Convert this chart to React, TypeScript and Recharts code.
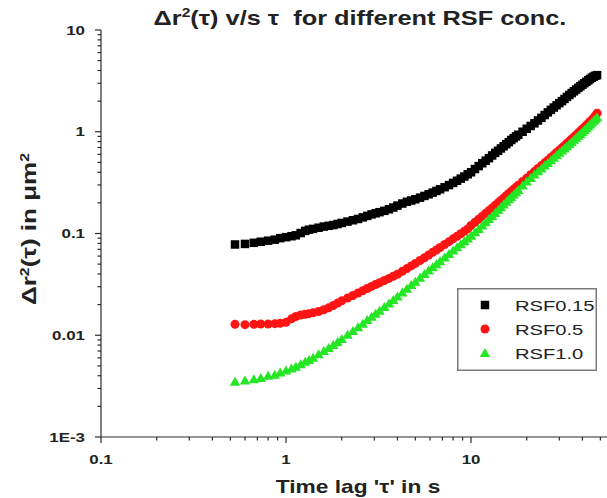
import { ScatterChart, Scatter, XAxis, YAxis, Legend } from 'recharts'

// time lag in s (one shared grid for all three runs)
const times = [
    0.53, 0.6, 0.67, 0.73, 0.8, 0.87, 0.93, 1.0, 1.07, 1.13, 1.2, 1.27, 1.33, 1.4, 1.5, 1.6, 1.7, 1.8, 1.9,
    2.0, 2.15, 2.3, 2.45, 2.6, 2.75, 2.9, 3.05, 3.2, 3.4, 3.6, 3.8, 4.0, 4.25, 4.5, 4.75,
    5.0, 5.3, 5.6, 5.9, 6.2, 6.5, 6.8, 7.2, 7.6, 8.0, 8.4, 8.8, 9.2, 9.6,
    10, 10.5, 11, 11.5, 12, 12.5, 13, 13.5, 14, 14.5, 15, 15.5, 16, 16.5, 17, 17.5, 18,
    19, 20, 21, 22, 23, 24, 25, 26, 27, 28, 29, 30, 31, 32, 33,
    34, 35, 36, 37, 38, 39, 40, 41, 42, 43, 44, 45, 46, 47, 48,
]

// MSD in um^2
const rsf015 = [
    0.078, 0.079, 0.081, 0.083, 0.085, 0.087, 0.09, 0.092, 0.094, 0.096, 0.101, 0.106, 0.109, 0.111, 0.114, 0.117, 0.119, 0.121, 0.124,
    0.127, 0.131, 0.135, 0.139, 0.144, 0.149, 0.154, 0.158, 0.162, 0.167, 0.173, 0.18, 0.188, 0.197, 0.205, 0.211,
    0.217, 0.225, 0.234, 0.243, 0.252, 0.262, 0.272, 0.285, 0.299, 0.314, 0.33, 0.346, 0.363, 0.382,
    0.4, 0.43, 0.46, 0.49, 0.52, 0.55, 0.585, 0.62, 0.65, 0.685, 0.72, 0.755, 0.79, 0.83, 0.865, 0.9, 0.935,
    1.0, 1.07, 1.14, 1.21, 1.29, 1.37, 1.46, 1.55, 1.64, 1.73, 1.82, 1.91, 2.0, 2.1, 2.2,
    2.3, 2.4, 2.5, 2.6, 2.7, 2.8, 2.9, 3.0, 3.1, 3.2, 3.3, 3.4, 3.48, 3.55, 3.6,
]
const rsf05 = [
    0.0128, 0.0127, 0.0128, 0.0129, 0.0129, 0.013, 0.0131, 0.0134, 0.0145, 0.0153, 0.0158, 0.0161, 0.0163, 0.0166, 0.0171, 0.0178, 0.0186, 0.0196, 0.0207,
    0.0218, 0.0232, 0.0246, 0.026, 0.0274, 0.0288, 0.0302, 0.0315, 0.0328, 0.0345, 0.0362, 0.038, 0.0398, 0.0425, 0.0452, 0.048,
    0.0508, 0.0543, 0.0578, 0.0615, 0.0653, 0.069, 0.0728, 0.078, 0.0832, 0.0886, 0.094, 0.0995, 0.105, 0.111,
    0.12, 0.129, 0.138, 0.148, 0.158, 0.168, 0.178, 0.189, 0.2, 0.211, 0.223, 0.235, 0.247, 0.259, 0.272, 0.285, 0.298,
    0.324, 0.35, 0.378, 0.406, 0.435, 0.465, 0.495, 0.525, 0.558, 0.59, 0.625, 0.66, 0.695, 0.73, 0.77,
    0.81, 0.85, 0.89, 0.93, 0.975, 1.02, 1.065, 1.11, 1.16, 1.21, 1.26, 1.31, 1.37, 1.44, 1.52,
]
const rsf10 = [
    0.0035, 0.0036, 0.0037, 0.0038, 0.004, 0.0041, 0.0043, 0.0045, 0.0047, 0.0049, 0.0052, 0.0055, 0.0057, 0.006, 0.0065, 0.007, 0.0075, 0.008, 0.0086,
    0.0092, 0.0101, 0.011, 0.012, 0.013, 0.0141, 0.0152, 0.0163, 0.0174, 0.0189, 0.0205, 0.0222, 0.024, 0.0263, 0.0287, 0.0311,
    0.0336, 0.0367, 0.0399, 0.0432, 0.0466, 0.05, 0.0535, 0.0582, 0.063, 0.068, 0.0732, 0.0785, 0.084, 0.0895,
    0.095, 0.103, 0.111, 0.12, 0.129, 0.139, 0.149, 0.159, 0.17, 0.181, 0.193, 0.205, 0.217, 0.229, 0.242, 0.255, 0.268,
    0.296, 0.325, 0.352, 0.38, 0.408, 0.436, 0.465, 0.494, 0.524, 0.555, 0.587, 0.62, 0.653, 0.686, 0.722,
    0.758, 0.795, 0.833, 0.872, 0.912, 0.953, 0.995, 1.04, 1.085, 1.13, 1.18, 1.23, 1.28, 1.33, 1.38,
]

const xTicks = [
    0.1, 0.2, 0.3, 0.4, 0.5, 0.6, 0.7, 0.8, 0.9,
    1, 2, 3, 4, 5, 6, 7, 8, 9,
    10, 20, 30, 40, 50,
]
const xMajorTicks = [0.1, 1, 10]
const xMajorLabels = ['0.1', '1', '10']

const yTicks = [
    0.001, 0.002, 0.003, 0.004, 0.005, 0.006, 0.007, 0.008, 0.009,
    0.01, 0.02, 0.03, 0.04, 0.05, 0.06, 0.07, 0.08, 0.09,
    0.1, 0.2, 0.3, 0.4, 0.5, 0.6, 0.7, 0.8, 0.9,
    1, 2, 3, 4, 5, 6, 7, 8, 9,
    10,
]
const yMajorTicks = [0.001, 0.01, 0.1, 1, 10]
const yMajorLabels = ['1E-3', '0.01', '0.1', '1', '10']

const seriesNames = ['RSF0.15', 'RSF0.5', 'RSF1.0']
const seriesColors = ['#000000', '#ff1414', '#24e624']

const FONT = '"Liberation Sans", Arial, sans-serif'
const STRETCH = 1.3
const AXIS = '#2a2a2a'

const toPoints = (vals: number[]) => times.map((t, i) => ({ t, v: vals[i] }))

function Marker({ kind, cx, cy, color }: { kind: number; cx: number; cy: number; color: string }) {
    if (kind === 0) return <rect x={cx - 4.25} y={cy - 4.25} width={8.5} height={8.5} fill={color} />
    if (kind === 1) return <circle cx={cx} cy={cy} r={4.5} fill={color} />
    return <polygon points={`${cx},${cy - 5} ${cx + 5.2},${cy + 4} ${cx - 5.2},${cy + 4}`} fill={color} />
}

function XTick(props: any) {
    const { x, y, payload } = props
    const idx = xMajorTicks.indexOf(payload.value)
    const major = idx >= 0
    return (
        <g>
            <line x1={x} x2={x} y1={y} y2={y + (major ? 6 : 3.5)} stroke={AXIS} strokeWidth={1.2} />
            {major && (
                <text
                    transform={`translate(${x},${y + 27}) scale(${STRETCH},1)`}
                    textAnchor="middle"
                    fontFamily={FONT}
                    fontWeight="bold"
                    fontSize={13}
                    fill="#222"
                >
                    {xMajorLabels[idx]}
                </text>
            )}
        </g>
    )
}

function YTick(props: any) {
    const { x, y, payload } = props
    const idx = yMajorTicks.indexOf(payload.value)
    const major = idx >= 0
    return (
        <g>
            <line x1={x} x2={x - (major ? 6 : 3.5)} y1={y} y2={y} stroke={AXIS} strokeWidth={1.2} />
            {major && (
                <text
                    transform={`translate(${x - 16},${y + 4.6}) scale(${STRETCH},1)`}
                    textAnchor="end"
                    fontFamily={FONT}
                    fontWeight="bold"
                    fontSize={13}
                    fill="#222"
                >
                    {yMajorLabels[idx]}
                </text>
            )}
        </g>
    )
}

function LegendBox() {
    return (
        <svg width={140} height={83} style={{ display: 'block' }}>
            <rect x={0.75} y={0.75} width={138.5} height={81.5} fill="#fff" stroke="#7a7a7a" strokeWidth={1.5} />
            {seriesNames.map((name, i) => {
                const cy = 17 + i * 24
                return (
                    <g key={name}>
                        <Marker kind={i} cx={28} cy={cy} color={seriesColors[i]} />
                        <text
                            transform={`translate(58,${cy + 5.5}) scale(${STRETCH},1)`}
                            fontFamily={FONT}
                            fontSize={15.5}
                            fill="#222"
                        >
                            {name}
                        </text>
                    </g>
                )
            })}
        </svg>
    )
}

export default function App() {
    const series = [rsf015, rsf05, rsf10]
    return (
        <div style={{ position: 'absolute', left: 0, top: 0, width: 607, height: 498, background: '#fff', overflow: 'hidden' }}>
            <ScatterChart width={607} height={498} margin={{ top: 30, right: 0, bottom: 0, left: 0 }}>
                <XAxis
                    dataKey="t"
                    type="number"
                    scale="log"
                    domain={[0.1, 54.3]}
                    allowDataOverflow
                    ticks={xTicks}
                    interval={0}
                    height={61}
                    tickLine={false}
                    tickSize={0}
                    tickMargin={0}
                    axisLine={{ stroke: AXIS, strokeWidth: 1.2 }}
                    tick={(p: any) => <XTick {...p} />}
                />
                <YAxis
                    dataKey="v"
                    type="number"
                    scale="log"
                    domain={[0.001, 10]}
                    allowDataOverflow
                    ticks={yTicks}
                    interval={0}
                    width={101}
                    tickLine={false}
                    tickSize={0}
                    tickMargin={0}
                    axisLine={{ stroke: AXIS, strokeWidth: 1.2 }}
                    tick={(p: any) => <YTick {...p} />}
                />
                <Legend
                    layout="horizontal"
                    verticalAlign="middle"
                    align="center"
                    wrapperStyle={{ position: 'absolute', left: 457, top: 288, width: 140, height: 83 }}
                    content={() => <LegendBox />}
                />
                {series.map((vals, i) => (
                    <Scatter
                        key={seriesNames[i]}
                        name={seriesNames[i]}
                        data={toPoints(vals)}
                        fill={seriesColors[i]}
                        isAnimationActive={false}
                        shape={(p: any) => <Marker kind={i} cx={p.cx} cy={p.cy} color={seriesColors[i]} />}
                    />
                ))}
            </ScatterChart>
            <svg width={607} height={498} style={{ position: 'absolute', left: 0, top: 0, pointerEvents: 'none' }}>
                <text
                    transform={`translate(360,25) scale(${STRETCH},1)`}
                    textAnchor="middle"
                    fontFamily={FONT}
                    fontWeight="bold"
                    fontSize={19.5}
                    fill="#222"
                    style={{ whiteSpace: 'pre' }}
                >
                    Δr<tspan dy={-8} fontSize={12}>2</tspan>
                    <tspan dy={8}>(τ) v/s τ  for different RSF conc.</tspan>
                </text>
                <text
                    transform={`translate(358,493) scale(${STRETCH},1)`}
                    textAnchor="middle"
                    fontFamily={FONT}
                    fontWeight="bold"
                    fontSize={17.5}
                    fill="#222"
                >
                    Time lag 'τ' in s
                </text>
                <text
                    transform={`translate(36,229) scale(1.05,1) rotate(-90)`}
                    textAnchor="middle"
                    fontFamily={FONT}
                    fontWeight="bold"
                    fontSize={19}
                    fill="#222"
                    textLength={152}
                    lengthAdjust="spacingAndGlyphs"
                >
                    Δr<tspan dy={-7} fontSize={11.5}>2</tspan>
                    <tspan dy={7}>(τ) in μm</tspan>
                    <tspan dy={-7} fontSize={11.5}>2</tspan>
                </text>
            </svg>
        </div>
    )
}
